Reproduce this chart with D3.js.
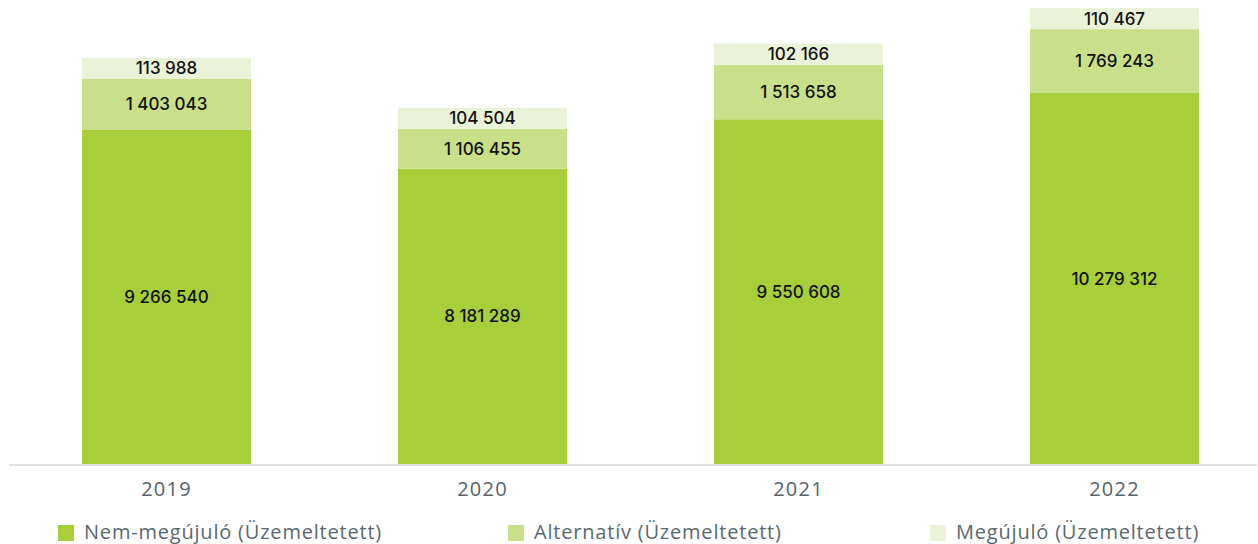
<!DOCTYPE html>
<html>
<head>
<meta charset="utf-8">
<script src="https://cdn.jsdelivr.net/npm/d3@7"></script>
<style>
  html, body { margin: 0; padding: 0; background: #fff; overflow: hidden; }
  svg { display: block; }
</style>
</head>
<body>
<svg id="chart" width="1258" height="544"></svg>
<script>
// ---- data ----
const years = ["2019", "2020", "2021", "2022"];
const seriesNames = ["Nem-megújuló (Üzemeltetett)", "Alternatív (Üzemeltetett)", "Megújuló (Üzemeltetett)"];
const nemMegujulo = [9266540, 8181289, 9550608, 10279312];
const alternativ = [1403043, 1106455, 1513658, 1769243];
const megujulo = [113988, 104504, 102166, 110467];
const seriesColors = ["#a8ce3a", "#c9df8a", "#eaf2d7"];

// ---- layout ----
const W = 1258, H = 544;
const baseY = 464, topY = 11;
const yMax = 12550000;
const minSegPx = 21;

const svg = d3.select("#chart");

const x = d3.scaleBand()
  .domain(years)
  .range([8.5, 1272.5])
  .paddingInner(0.465)
  .paddingOuter(0.2325);

const y = d3.scaleLinear().domain([0, yMax]).range([baseY, topY]);

const series = [nemMegujulo, alternativ, megujulo];
const fmt = v => d3.format(",")(v).replace(/,/g, " ");

// build stacked segments (with minimum visible height)
const segs = [];
years.forEach((yr, i) => {
  let acc = y(0);
  series.forEach((vals, s) => {
    const h = Math.max(minSegPx, y(0) - y(vals[i]));
    segs.push({ year: yr, s, value: vals[i], y0: acc - h, h });
    acc -= h;
  });
});

const g = svg.append("g");

g.selectAll("rect.seg")
  .data(segs)
  .join("rect")
  .attr("class", "seg")
  .attr("x", d => x(d.year))
  .attr("width", x.bandwidth())
  .attr("y", d => d.y0)
  .attr("height", d => d.h)
  .attr("fill", d => seriesColors[d.s]);

g.selectAll("text.val")
  .data(segs)
  .join("text")
  .attr("class", "val")
  .attr("x", d => x(d.year) + x.bandwidth() / 2)
  .attr("y", d => d.y0 + d.h / 2)
  .attr("dy", "0.36em")
  .attr("text-anchor", "middle")
  .attr("font-family", "Inter, 'Open Sans', sans-serif")
  .attr("font-weight", 500)
  .attr("font-size", 17)
  .attr("fill", "#111")
  .text(d => fmt(d.value));

// x axis
const xAxis = d3.axisBottom(x).tickSize(0).tickPadding(0);
const ax = svg.append("g").attr("transform", `translate(0,${baseY + 1})`).call(xAxis);
ax.select(".domain").remove();
ax.append("line")
  .attr("x1", 9).attr("x2", 1257)
  .attr("y1", 0).attr("y2", 0)
  .attr("stroke", "#dce2e5").attr("stroke-width", 2);
ax.selectAll(".tick text")
  .attr("y", 31)
  .attr("dy", 0)
  .attr("font-family", "'Open Sans', sans-serif")
  .attr("font-size", 20)
  .attr("letter-spacing", "1.2px")
  .attr("fill", "#56636b");

// legend
const legendX = [58, 508, 930];
const lg = svg.append("g").selectAll("g")
  .data(seriesNames)
  .join("g")
  .attr("transform", (d, i) => `translate(${legendX[i]},525)`);
lg.append("rect").attr("width", 16).attr("height", 16).attr("fill", (d, i) => seriesColors[i]);
lg.append("text")
  .attr("x", 26)
  .attr("y", 14)
  .attr("font-family", "'Open Sans', sans-serif")
  .attr("font-size", 20)
  .attr("letter-spacing", "0.8px")
  .attr("fill", "#5a6870")
  .text(d => d);
</script>
</body>
</html>
